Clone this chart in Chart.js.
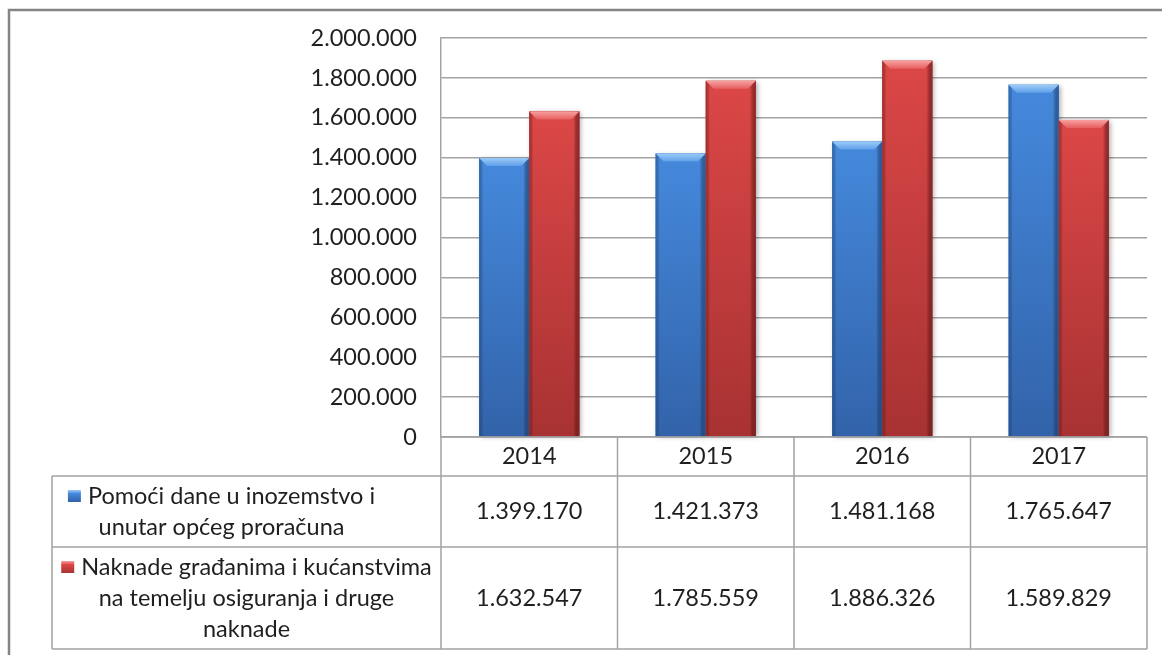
<!DOCTYPE html>
<html><head><meta charset="utf-8">
<script src="https://cdn.jsdelivr.net/npm/chart.js@4/dist/chart.umd.min.js"></script>
<style>html,body{margin:0;padding:0;background:#fff;}#wrap{width:1162px;height:655px;position:relative;}</style>
</head><body><div id="wrap"><canvas id="c"></canvas></div>
<script>
// ---- data ----
const years = ['2014', '2015', '2016', '2017'];
const seriesLabelLines = [
  ['Pomoći dane u inozemstvo i', 'unutar općeg proračuna'],
  ['Naknade građanima i kućanstvima', 'na temelju osiguranja i druge', 'naknade']
];
const pomoci = [1399170, 1421373, 1481168, 1765647];
const naknade = [1632547, 1785559, 1886326, 1589829];
const yMin = 0, yMax = 2000000, yStep = 200000;

// ---- style ----
const FONT = 'Lato, "Open Sans", sans-serif';
const FSIZE = 23.5;
const TEXT = '#1f1f1f';
const LINE = '#a3a3a3';
const LABEL_SHIFT = [-25, 0];
const PAL = [
  {face:'#3D80D3', top:'#4589DC', bottom:'#3263AA', bevTop:'#9CCBF9', bevBot:'#5F9FE8', edge:'#2A5896'},
  {face:'#D04040', top:'#DC4747', bottom:'#A83232', bevTop:'#F8A0A0', bevBot:'#E65F5F', edge:'#842222'}
];
const fmt = v => String(v).replace(/\B(?=(\d{3})+(?!\d))/g, '.');

const frame = {
  id: 'frame',
  beforeDraw(chart) {
    const c = chart.ctx;
    c.save();
    c.strokeStyle = '#858585'; c.lineWidth = 2.5;
    c.strokeRect(9, 10, 1170, 670);
    c.restore();
  }
};

const bevel = {
  id: 'bevel',
  afterDatasetsDraw(chart) {
    const c = chart.ctx;
    chart.data.datasets.forEach((ds, di) => {
      const p = PAL[di];
      chart.getDatasetMeta(di).data.forEach(bar => {
        const {x, y, base, width} = bar.getProps(['x', 'y', 'base', 'width'], true);
        const l = x - width / 2, r = x + width / 2, t = y, b = base, w = width;
        c.save();
        c.shadowColor = 'rgba(0,0,0,0.35)'; c.shadowBlur = 5; c.shadowOffsetX = 2; c.shadowOffsetY = 1;
        let g = c.createLinearGradient(0, t, 0, b);
        g.addColorStop(0, p.top); g.addColorStop(1, p.bottom);
        c.fillStyle = g; c.fillRect(l, t, w, b - t);
        c.restore();
        c.save();
        let gl = c.createLinearGradient(l, 0, l + 4, 0);
        gl.addColorStop(0, p.edge); gl.addColorStop(1, 'rgba(0,0,0,0)');
        c.globalAlpha = 0.55; c.fillStyle = gl; c.fillRect(l, t, 4, b - t);
        let gr = c.createLinearGradient(r - 6, 0, r, 0);
        gr.addColorStop(0, 'rgba(0,0,0,0)'); gr.addColorStop(1, p.edge);
        c.globalAlpha = 0.8; c.fillStyle = gr; c.fillRect(r - 6, t, 6, b - t);
        c.globalAlpha = 1;
        const bv = 8;
        let gt = c.createLinearGradient(0, t, 0, t + bv);
        gt.addColorStop(0, p.bevTop); gt.addColorStop(1, p.bevBot);
        c.fillStyle = gt;
        c.beginPath(); c.moveTo(l, t); c.lineTo(r, t); c.lineTo(r - bv, t + bv); c.lineTo(l + bv, t + bv); c.closePath(); c.fill();
        c.restore();
      });
    });
  }
};

const table = {
  id: 'dataTable',
  afterDraw(chart) {
    const c = chart.ctx, xs = chart.scales.x, area = chart.chartArea;
    const n = years.length;
    const cw = (area.right - area.left) / n;
    const labelLeft = 52, lh = 31, headH = 39, pad = 4.5;
    const rowH = seriesLabelLines.map(ls => ls.length * lh + 2 * pad);
    const top = area.bottom;
    const rowTop = [top + headH];
    rowTop.push(rowTop[0] + rowH[0]);
    const bottom = rowTop[1] + rowH[1];
    const edges = [];
    for (let i = 0; i < n; i++) edges.push(xs.getPixelForValue(i) - cw / 2);
    edges.push(xs.getPixelForValue(n - 1) + cw / 2);
    c.save();
    c.strokeStyle = LINE; c.lineWidth = 1.5;
    c.beginPath();
    edges.forEach(e => { c.moveTo(e, top); c.lineTo(e, bottom); });
    c.moveTo(area.left, top); c.lineTo(edges[n], top);
    c.moveTo(labelLeft, rowTop[0]); c.lineTo(edges[n], rowTop[0]);
    c.moveTo(labelLeft, rowTop[1]); c.lineTo(edges[n], rowTop[1]);
    c.moveTo(labelLeft, bottom); c.lineTo(edges[n], bottom);
    c.moveTo(labelLeft, rowTop[0]); c.lineTo(labelLeft, bottom);
    c.stroke();
    c.fillStyle = TEXT; c.font = FSIZE + 'px ' + FONT;
    c.textAlign = 'center'; c.textBaseline = 'middle';
    years.forEach((yr, i) => c.fillText(yr, xs.getPixelForValue(i), top + headH / 2));
    const vals = [pomoci, naknade];
    vals.forEach((arr, ri) => {
      const cy = rowTop[ri] + rowH[ri] / 2;
      arr.forEach((v, i) => c.fillText(fmt(v), xs.getPixelForValue(i), cy));
      const ls = seriesLabelLines[ri];
      const cx = (labelLeft + area.left) / 2 + LABEL_SHIFT[ri];
      const y0 = rowTop[ri] + pad + lh / 2;
      const mk = 13, gap = 7;
      ls.forEach((s, li) => {
        const yy = y0 + li * lh;
        if (li === 0) {
          const tw = c.measureText(s).width;
          const total = mk + gap + tw;
          const sx = cx - total / 2;
          const p = PAL[ri];
          let g = c.createLinearGradient(0, yy - 6, 0, yy + 6);
          g.addColorStop(0, p.bevTop); g.addColorStop(0.3, p.top); g.addColorStop(1, p.bottom);
          c.fillStyle = g; c.fillRect(sx, yy - 6, mk, 12);
          c.fillStyle = TEXT; c.textAlign = 'left';
          c.fillText(s, sx + mk + gap, yy);
          c.textAlign = 'center';
        } else {
          c.fillText(s, cx, yy);
        }
      });
    });
    c.restore();
  }
};

new Chart(document.getElementById('c'), {
  type: 'bar',
  data: {
    labels: years,
    datasets: [
      {label: seriesLabelLines[0].join(' '), data: pomoci, backgroundColor: PAL[0].face, borderWidth: 0},
      {label: seriesLabelLines[1].join(' '), data: naknade, backgroundColor: PAL[1].face, borderWidth: 0}
    ]
  },
  options: {
    responsive: true, maintainAspectRatio: false, animation: false,
    devicePixelRatio: 1,
    layout: {padding: {left: 0, top: 38, right: 15, bottom: 218}},
    plugins: {legend: {display: false}, tooltip: {enabled: false}},
    datasets: {bar: {categoryPercentage: 0.568, barPercentage: 1.0}},
    scales: {
      x: {display: false},
      y: {
        min: yMin, max: yMax,
        afterFit(s) { s.width = 441; },
        ticks: {stepSize: yStep, padding: 24, color: TEXT, font: {family: FONT, size: FSIZE}, callback: v => fmt(v)},
        grid: {color: LINE, lineWidth: 1.5, drawTicks: false},
        border: {display: true, color: LINE, width: 1.5}
      }
    }
  },
  plugins: [frame, bevel, table]
});
</script>
</body></html>
